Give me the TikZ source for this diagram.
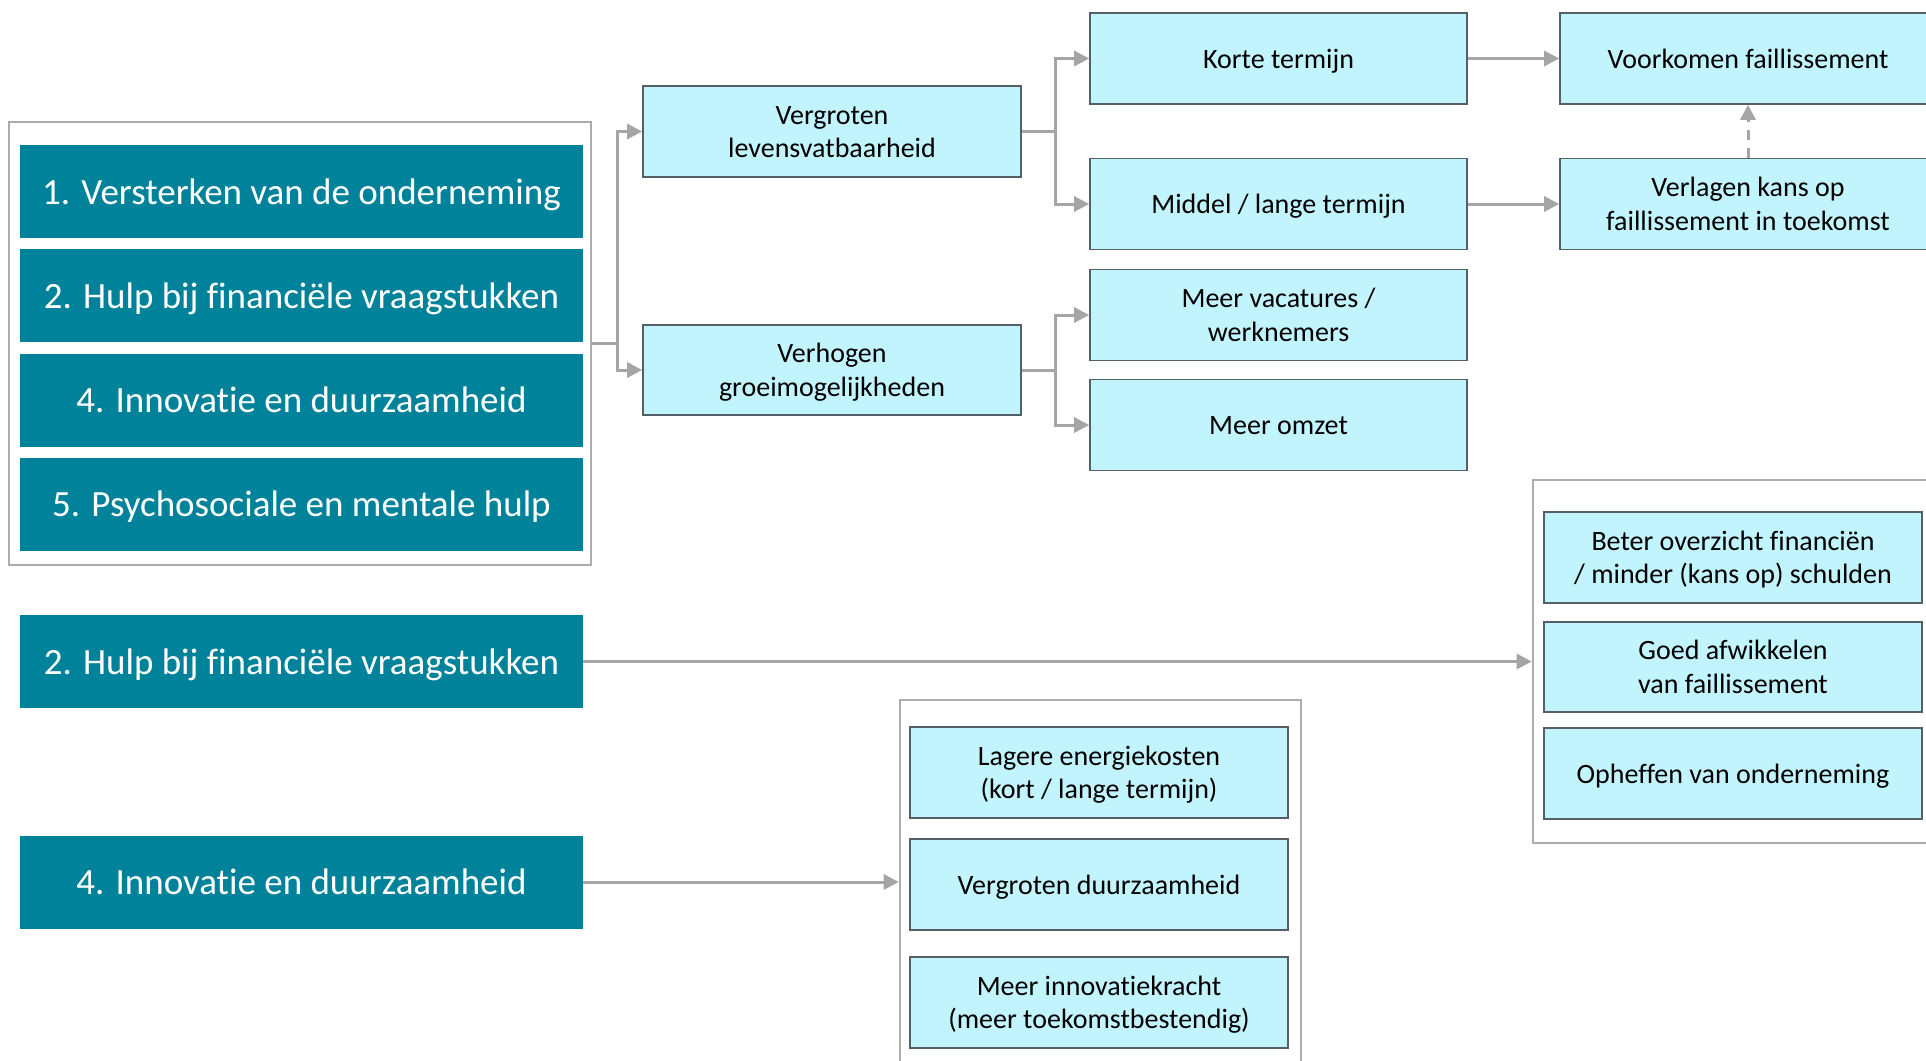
\documentclass[tikz,border=0pt]{standalone}
\usepackage{fontspec}
\setmainfont{Carlito}[Ligatures=NoCommon]
\usetikzlibrary{arrows.meta}

\definecolor{tealfill}{RGB}{0,130,154}
\definecolor{lightcyan}{RGB}{194,244,254}
\definecolor{boxedge}{RGB}{84,96,102}
\definecolor{linkgrey}{RGB}{165,165,165}
\definecolor{framegrey}{RGB}{172,172,172}

\tikzset{
  themebox/.style={fill=tealfill, draw=none, text=white, inner sep=0pt,
    minimum width=563pt, minimum height=93pt,
    text height=35.2pt, text depth=10pt,
    font=\fontsize{37pt}{45pt}\selectfont},
  effectbox/.style={fill=lightcyan, draw=boxedge, line width=1.6pt, text=black,
    inner sep=0pt, minimum width=377pt, minimum height=91pt, align=center,
    text height=26.6pt, text depth=7.5pt,
    font=\fontsize{28pt}{33.5pt}\selectfont},
  twolines/.style={text height=60.1pt, text depth=7.5pt},
  groupframe/.style={draw=framegrey, line width=2.6pt, fill=none, inner sep=0pt},
  link/.style={draw=linkgrey, line width=3pt,
    -{Triangle[length=15pt,width=15pt]}},
  plainlink/.style={draw=linkgrey, line width=3pt},
  hintlink/.style={link, dash pattern=on 10pt off 8pt}
}

\begin{document}
\begin{tikzpicture}[x=1pt, y=-1pt]
\useasboundingbox (0,0) rectangle (1926,1060);

% group of four themes
\node[groupframe, minimum width=582pt, minimum height=443pt] (g1) at (300,343.5) {};
\node[themebox] (t1) at (301.5,191.5) {1. Versterken van de onderneming};
\node[themebox] (t2) at (301.5,295.5) {2. Hulp bij financiële vraagstukken};
\node[themebox] (t3) at (301.5,400) {4. Innovatie en duurzaamheid};
\node[themebox] (t4) at (301.5,504) {5. Psychosociale en mentale hulp};

% single themes
\node[themebox] (t5) at (301.5,661.5) {2. Hulp bij financiële vraagstukken};
\node[themebox] (t6) at (301.5,882) {4. Innovatie en duurzaamheid};

% first tier of effects
\node[effectbox, twolines, minimum width=378pt] (verg) at (832,131.5) {Vergroten\\levensvatbaarheid};
\node[effectbox, twolines, minimum width=378pt, minimum height=90pt] (verh) at (832,370) {Verhogen\\groeimogelijkheden};

% second tier
\node[effectbox] (korte) at (1278.5,58.5) {Korte termijn};
\node[effectbox] (middel) at (1278.5,204) {Middel / lange termijn};
\node[effectbox, twolines] (vac) at (1278.5,315) {Meer vacatures /\\werknemers};
\node[effectbox] (omzet) at (1278.5,425) {Meer omzet};

% third tier
\node[effectbox, minimum width=376pt] (voork) at (1748,58.5) {Voorkomen faillissement};
\node[effectbox, twolines, minimum width=376pt] (verlag) at (1748,204) {Verlagen kans op\\faillissement in toekomst};

% financial help outcomes
\node[groupframe, minimum width=402pt, minimum height=363pt] (g3) at (1734,661.5) {};
\node[effectbox, twolines, minimum width=378pt] (beter) at (1733,557.5) {Beter overzicht financiën\\/ minder (kans op) schulden};
\node[effectbox, twolines, minimum width=378pt, minimum height=90pt] (goed) at (1733,667) {Goed afwikkelen\\van faillissement};
\node[effectbox, minimum width=378pt] (ophef) at (1733,773.5) {Opheffen van onderneming};

% innovation outcomes
\node[groupframe, minimum width=401pt, minimum height=370pt] (g2) at (1100.5,885) {};
\node[effectbox, twolines, minimum width=378pt] (lager) at (1099,772.5) {Lagere energiekosten\\(kort / lange termijn)};
\node[effectbox, minimum width=378pt] (vdur) at (1099,884.5) {Vergroten duurzaamheid};
\node[effectbox, twolines, minimum width=378pt] (minn) at (1099,1002.5) {Meer innovatiekracht\\(meer toekomstbestendig)};

% branching connectors
\coordinate (j1) at (617,343.5);
\coordinate (j2) at (1055,131.5);
\coordinate (j3) at (1055,370);
\draw[plainlink] (g1.east) -- (j1);
\draw[link] (j1) |- (verg.west);
\draw[link] (j1) |- (verh.west);
\draw[plainlink] (verg.east) -- (j2);
\draw[link] (j2) |- (korte.west);
\draw[link] (j2) |- (middel.west);
\draw[plainlink] (verh.east) -- (j3);
\draw[link] (j3) |- (vac.west);
\draw[link] (j3) |- (omzet.west);

% straight connectors
\draw[link] (korte.east) -- (voork.west);
\draw[link] (middel.east) -- (verlag.west);
\draw[hintlink] (verlag.north) -- (voork.south);
\draw[link] (t5.east) -- (g3.west);
\draw[link] (t6.east) -- (t6.east -| g2.west);
\end{tikzpicture}
\end{document}
